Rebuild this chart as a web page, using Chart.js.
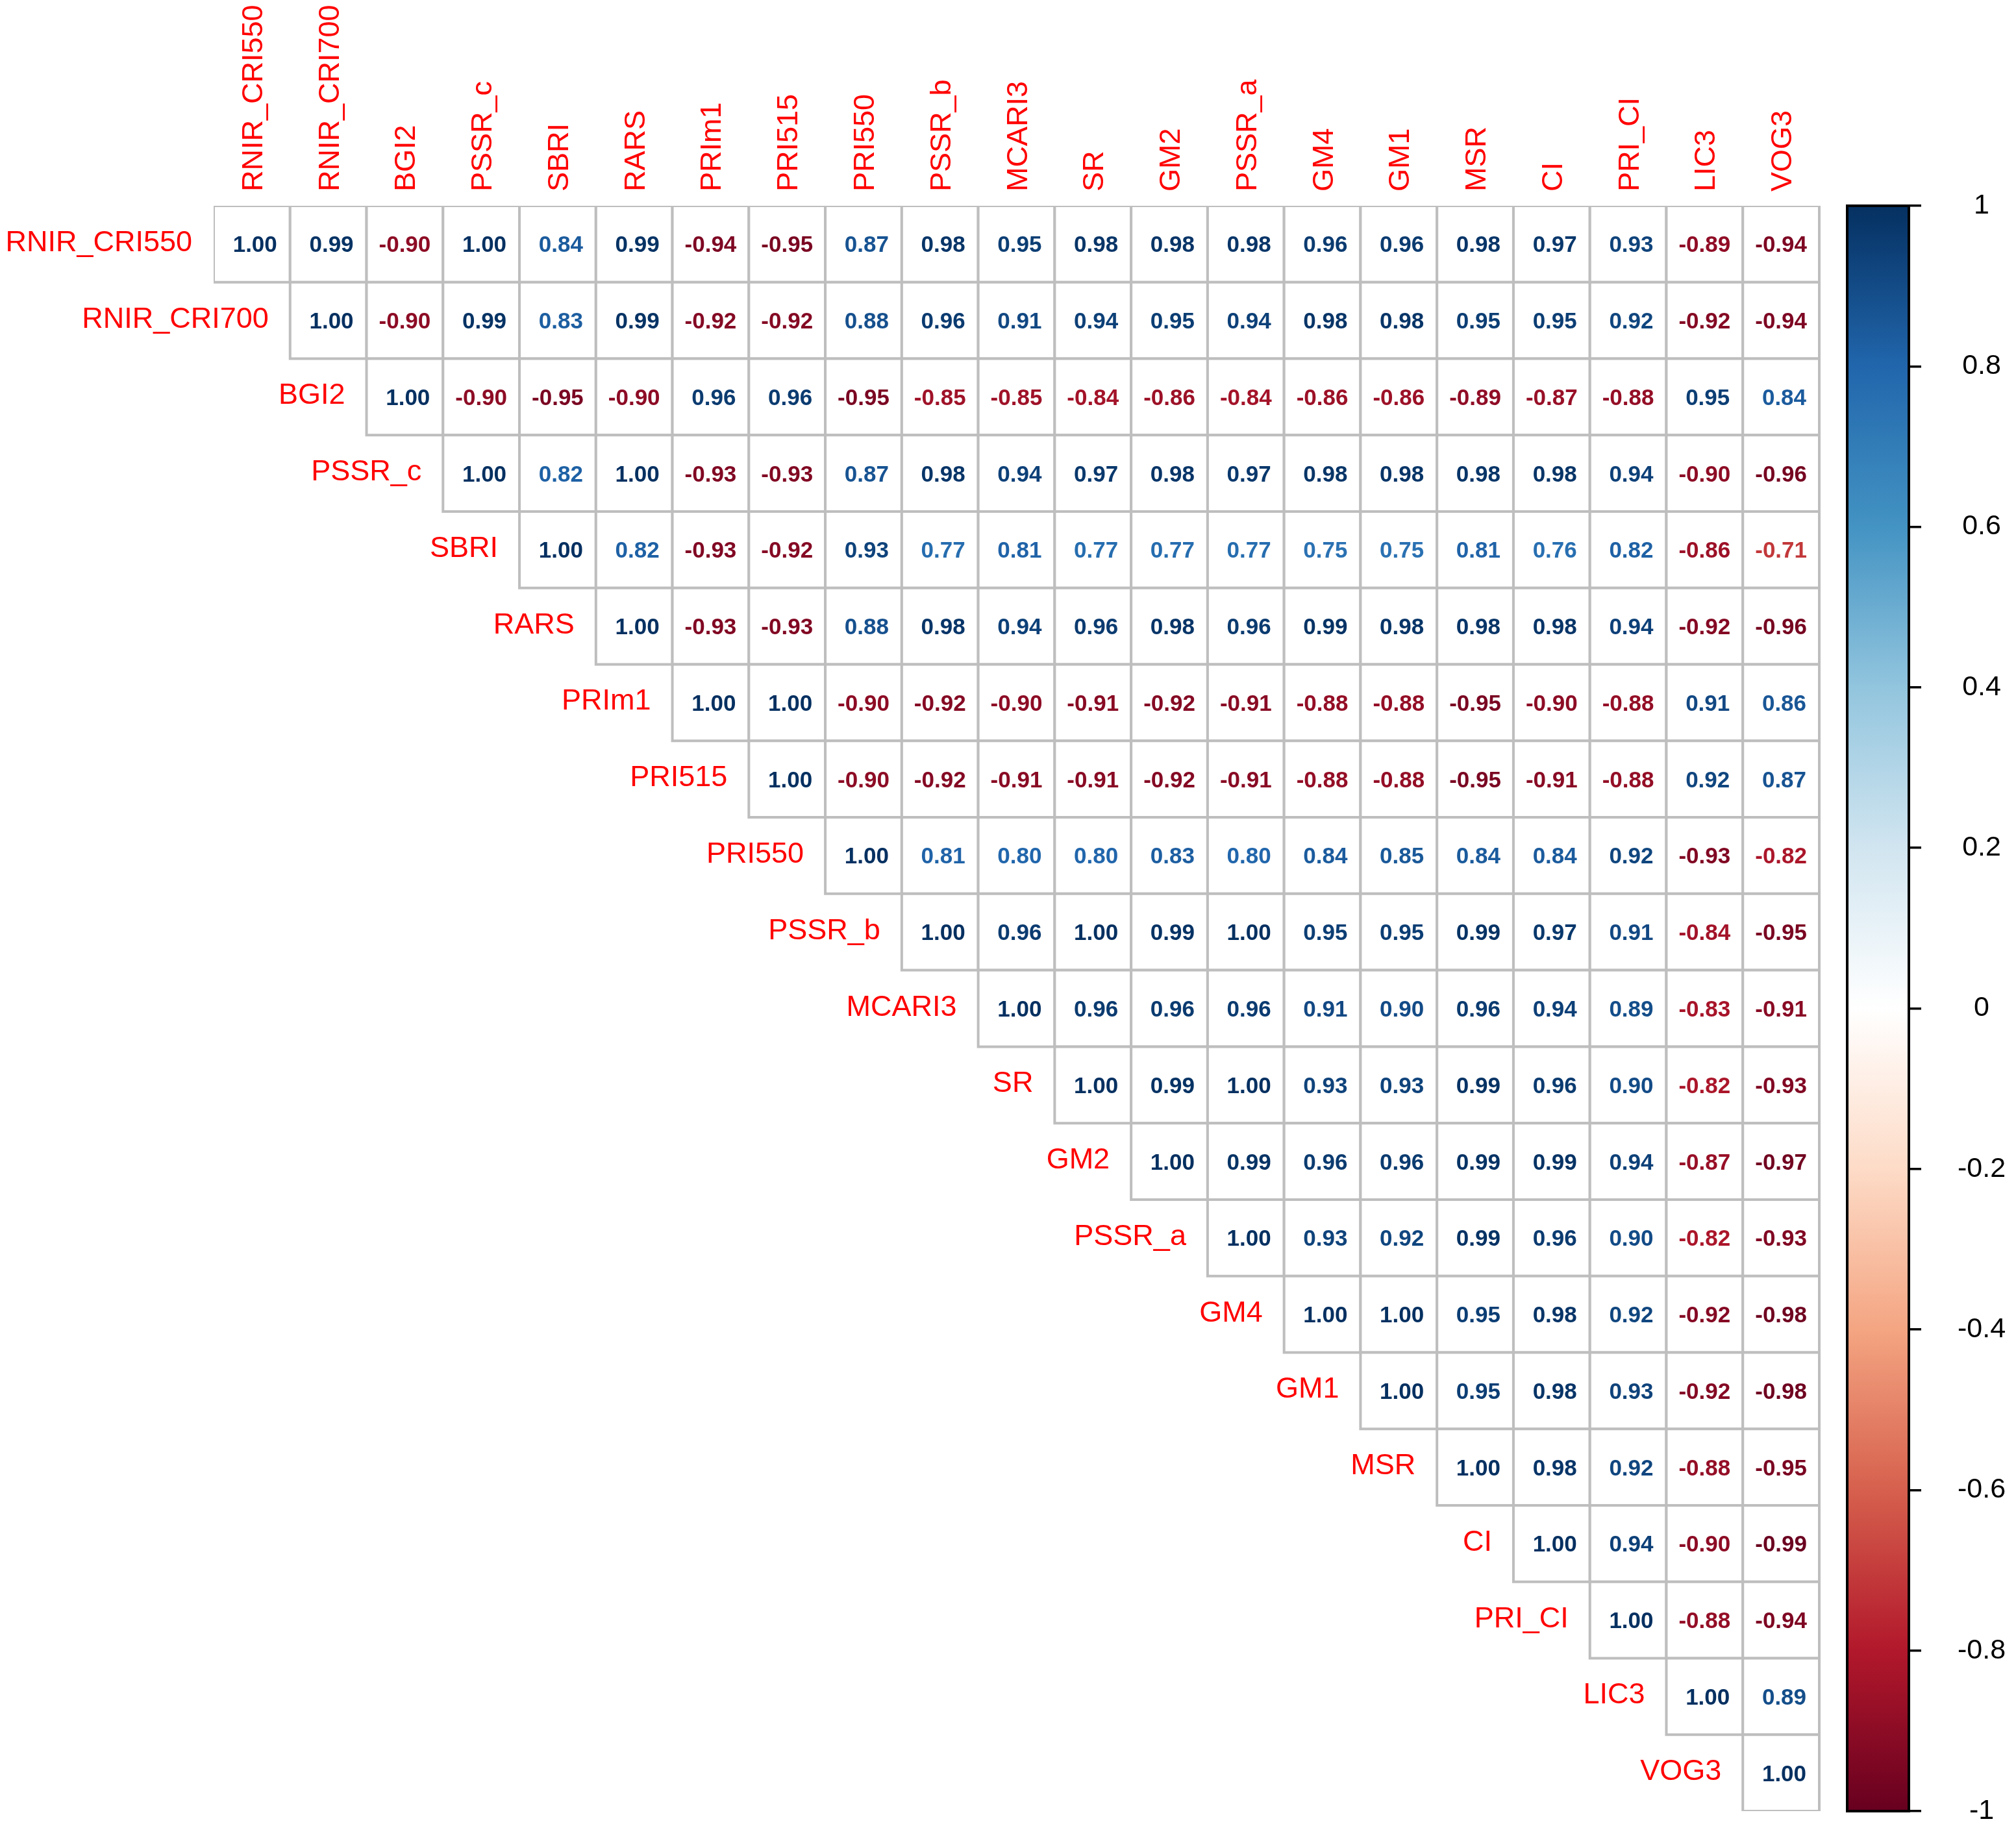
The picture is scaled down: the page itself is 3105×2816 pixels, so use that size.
<!DOCTYPE html>
<html>
<head>
<meta charset="utf-8">
<title>Correlation matrix</title>
<script src="https://cdn.jsdelivr.net/npm/chart.js@4.4.1/dist/chart.umd.min.js"></script>
<style>
  html, body { margin: 0; padding: 0; background: #ffffff; }
  #wrap { width: 3105px; height: 2816px; }
</style>
</head>
<body>
<div id="wrap"><canvas id="corr-chart" width="3105" height="2816"></canvas></div>
<script>
// Variable names (rows and columns, same order)
const indices = [
  "RNIR_CRI550", "RNIR_CRI700", "BGI2", "PSSR_c", "SBRI", "RARS", "PRIm1",
  "PRI515", "PRI550", "PSSR_b", "MCARI3", "SR", "GM2", "PSSR_a", "GM4",
  "GM1", "MSR", "CI", "PRI_CI", "LIC3", "VOG3"
];

// Upper triangle, row i starts on the diagonal (column i)
const corrUpper = [
  [1.00, 0.99, -0.90, 1.00, 0.84, 0.99, -0.94, -0.95, 0.87, 0.98, 0.95, 0.98, 0.98, 0.98, 0.96, 0.96, 0.98, 0.97, 0.93, -0.89, -0.94],
  [1.00, -0.90, 0.99, 0.83, 0.99, -0.92, -0.92, 0.88, 0.96, 0.91, 0.94, 0.95, 0.94, 0.98, 0.98, 0.95, 0.95, 0.92, -0.92, -0.94],
  [1.00, -0.90, -0.95, -0.90, 0.96, 0.96, -0.95, -0.85, -0.85, -0.84, -0.86, -0.84, -0.86, -0.86, -0.89, -0.87, -0.88, 0.95, 0.84],
  [1.00, 0.82, 1.00, -0.93, -0.93, 0.87, 0.98, 0.94, 0.97, 0.98, 0.97, 0.98, 0.98, 0.98, 0.98, 0.94, -0.90, -0.96],
  [1.00, 0.82, -0.93, -0.92, 0.93, 0.77, 0.81, 0.77, 0.77, 0.77, 0.75, 0.75, 0.81, 0.76, 0.82, -0.86, -0.71],
  [1.00, -0.93, -0.93, 0.88, 0.98, 0.94, 0.96, 0.98, 0.96, 0.99, 0.98, 0.98, 0.98, 0.94, -0.92, -0.96],
  [1.00, 1.00, -0.90, -0.92, -0.90, -0.91, -0.92, -0.91, -0.88, -0.88, -0.95, -0.90, -0.88, 0.91, 0.86],
  [1.00, -0.90, -0.92, -0.91, -0.91, -0.92, -0.91, -0.88, -0.88, -0.95, -0.91, -0.88, 0.92, 0.87],
  [1.00, 0.81, 0.80, 0.80, 0.83, 0.80, 0.84, 0.85, 0.84, 0.84, 0.92, -0.93, -0.82],
  [1.00, 0.96, 1.00, 0.99, 1.00, 0.95, 0.95, 0.99, 0.97, 0.91, -0.84, -0.95],
  [1.00, 0.96, 0.96, 0.96, 0.91, 0.90, 0.96, 0.94, 0.89, -0.83, -0.91],
  [1.00, 0.99, 1.00, 0.93, 0.93, 0.99, 0.96, 0.90, -0.82, -0.93],
  [1.00, 0.99, 0.96, 0.96, 0.99, 0.99, 0.94, -0.87, -0.97],
  [1.00, 0.93, 0.92, 0.99, 0.96, 0.90, -0.82, -0.93],
  [1.00, 1.00, 0.95, 0.98, 0.92, -0.92, -0.98],
  [1.00, 0.95, 0.98, 0.93, -0.92, -0.98],
  [1.00, 0.98, 0.92, -0.88, -0.95],
  [1.00, 0.94, -0.90, -0.99],
  [1.00, -0.88, -0.94],
  [1.00, 0.89],
  [1.00]
];

// Colour legend tick values
const legendTicks = [-1, -0.8, -0.6, -0.4, -0.2, 0, 0.2, 0.4, 0.6, 0.8, 1];

// RdBu palette, from -1 to 1
const palette = ["#67001F", "#B2182B", "#D6604D", "#F4A582", "#FDDBC7", "#FFFFFF",
                 "#D1E5F0", "#92C5DE", "#4393C3", "#2166AC", "#053061"];

// layout
const CANVAS_W = 3105, CANVAS_H = 2816;
const PAD_LEFT = 329, PAD_TOP = 317, PAD_BOTTOM = 26;
const LEGEND_AXIS_W = 165;
const LEGEND_BAR_W = 95;
const n = indices.length;
const areaW = CANVAS_W - PAD_LEFT - LEGEND_AXIS_W;
const areaH = CANVAS_H - PAD_TOP - PAD_BOTTOM;
const X_MAX = -0.5 + n * areaW / areaH;

const FONT = "'Liberation Sans', Arial, Helvetica, sans-serif";
const LABEL_RED = "#FF0000";
const GRID_GREY = "#BEBEBE";

function hexToRgb(h) {
  return [parseInt(h.slice(1, 3), 16), parseInt(h.slice(3, 5), 16), parseInt(h.slice(5, 7), 16)];
}

function colorFor(v) {
  const t = Math.max(0, Math.min(1, (v + 1) / 2)) * (palette.length - 1);
  const i = Math.min(Math.floor(t), palette.length - 2);
  const f = t - i;
  const a = hexToRgb(palette[i]), b = hexToRgb(palette[i + 1]);
  const c = a.map((x, k) => Math.round(x + (b[k] - x) * f));
  return "rgb(" + c.join(",") + ")";
}

const cells = [];
corrUpper.forEach((row, i) => {
  row.forEach((v, k) => {
    cells.push({ x: i + k, y: i, v: v });
  });
});

function cellSize(chart) {
  const ys = chart.scales.y;
  return Math.abs(ys.getPixelForValue(1) - ys.getPixelForValue(0));
}

const corrPlugin = {
  id: "corrDecor",
  beforeDraw(chart) {
    const ctx = chart.ctx;
    const area = chart.chartArea;
    const cs = chart.scales.c;
    ctx.save();
    ctx.fillStyle = "#ffffff";
    ctx.fillRect(0, 0, chart.width, chart.height);

    // colour bar
    const top = cs.getPixelForValue(1), bottom = cs.getPixelForValue(-1);
    const left = area.right - LEGEND_BAR_W;
    const grad = ctx.createLinearGradient(0, bottom, 0, top);
    palette.forEach((col, k) => grad.addColorStop(k / (palette.length - 1), col));
    ctx.fillStyle = grad;
    ctx.fillRect(left, top, area.right - left, bottom - top);
    ctx.strokeStyle = "#000000";
    ctx.lineWidth = 4;
    ctx.strokeRect(left, top, area.right - left, bottom - top);
    ctx.restore();
  },
  afterDatasetsDraw(chart) {
    const ctx = chart.ctx;
    const xs = chart.scales.x, ys = chart.scales.y;
    const area = chart.chartArea;
    const meta = chart.getDatasetMeta(0);
    ctx.save();

    // numbers in the cells
    ctx.font = "bold 35px " + FONT;
    ctx.textAlign = "center";
    ctx.textBaseline = "alphabetic";
    meta.data.forEach((pt, idx) => {
      const v = cells[idx].v;
      const txt = (v < 0 ? "" : " ") + v.toFixed(2);
      ctx.fillStyle = colorFor(v);
      ctx.fillText(txt, pt.x, pt.y + 12.5);
    });

    // row labels, on the left of the diagonal
    ctx.font = "45px " + FONT;
    ctx.fillStyle = LABEL_RED;
    ctx.textAlign = "right";
    indices.forEach((name, i) => {
      const x = xs.getPixelForValue(i - 0.5) - 33;
      const y = ys.getPixelForValue(i) - 5 + 16;
      ctx.fillText(name, x, y);
    });

    // column labels, vertical above the grid
    ctx.textAlign = "left";
    indices.forEach((name, j) => {
      const x = xs.getPixelForValue(j);
      ctx.save();
      ctx.translate(x + 16, area.top - 22);
      ctx.rotate(-Math.PI / 2);
      ctx.fillText(name, 0, 0);
      ctx.restore();
    });
    ctx.restore();
  }
};

const corrCtx = document.getElementById("corr-chart").getContext("2d");
new Chart(corrCtx, {
  type: "scatter",
  data: {
    datasets: [
      {
        label: "Correlation",
        data: cells,
        pointStyle: "rect",
        pointRadius: (c) => cellSize(c.chart) / Math.SQRT2,
        pointHoverRadius: (c) => cellSize(c.chart) / Math.SQRT2,
        backgroundColor: "#ffffff",
        borderColor: GRID_GREY,
        borderWidth: 4,
        hoverBorderWidth: 4,
      },
    ],
  },
  plugins: [corrPlugin],
  options: {
    responsive: false,
    devicePixelRatio: 1,
    animation: false,
    events: [],
    layout: {
      padding: { left: PAD_LEFT, top: PAD_TOP, bottom: PAD_BOTTOM, right: 0 },
    },
    plugins: {
      legend: { display: false },
      tooltip: { enabled: false },
    },
    scales: {
      x: { type: "linear", min: -0.5, max: X_MAX, display: false },
      y: { type: "linear", min: -0.5, max: n - 0.5, reverse: true, display: false },
      c: {
        type: "linear",
        position: "right",
        min: -1,
        max: 1,
        afterFit(scale) {
          scale.width = LEGEND_AXIS_W;
          scale.paddingTop = 0;
          scale.paddingBottom = 0;
        },
        afterBuildTicks(scale) { scale.ticks = legendTicks.map((v) => ({ value: v })); },
        border: { display: true, color: "#000000", width: 4 },
        grid: {
          drawOnChartArea: false,
          drawTicks: true,
          tickLength: 19,
          color: "#000000",
          lineWidth: 3.5,
        },
        ticks: {
          crossAlign: "center",
          padding: 56,
          color: "#000000",
          font: { family: FONT, size: 43 },
          callback: (v) => String(Number(v.toFixed(1))),
        },
      },
    },
  },
});
</script>
</body>
</html>
